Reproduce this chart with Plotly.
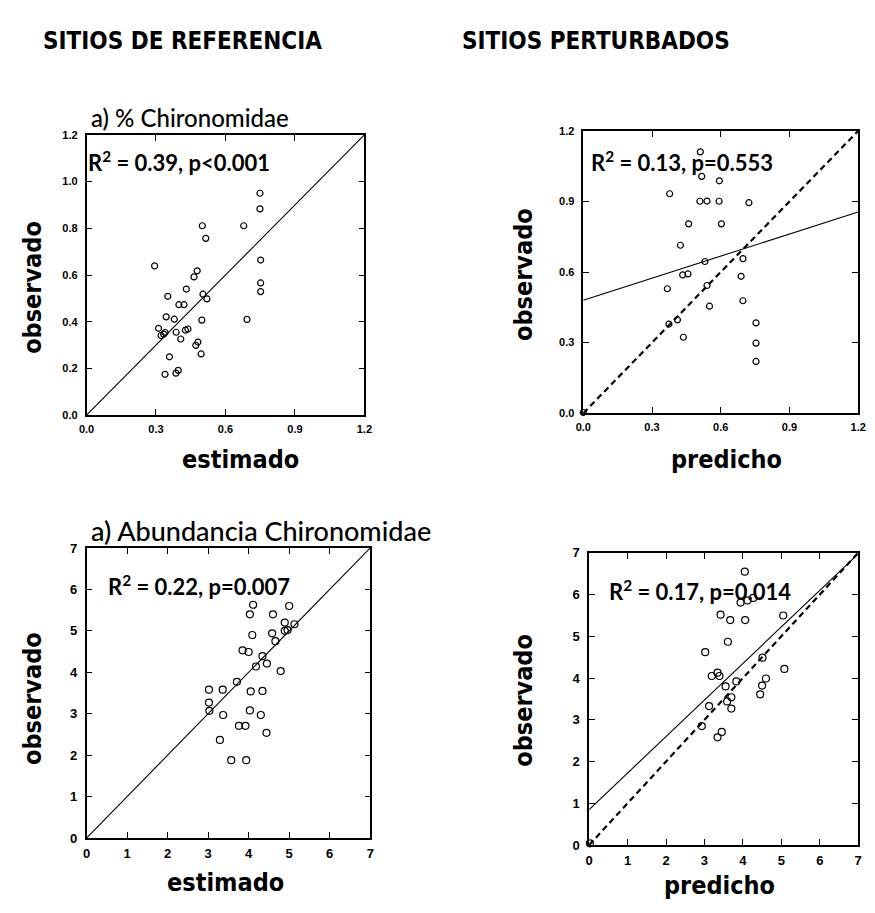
import plotly.graph_objects as go

# ---------------- data ----------------
ref_pct_x = [0.294,0.351,0.344,0.379,0.311,0.333,0.322,0.339,0.387,0.399,0.421,0.431,0.427,0.438,0.407,0.464,0.478,0.472,0.481,0.495,0.498,0.500,0.515,0.503,0.520,0.358,0.339,0.386,0.396,0.679,0.693,0.749,0.749,0.752,0.752,0.752]
ref_pct_y = [0.639,0.509,0.421,0.411,0.372,0.347,0.341,0.354,0.355,0.473,0.473,0.540,0.364,0.369,0.326,0.592,0.618,0.299,0.313,0.262,0.407,0.811,0.757,0.518,0.498,0.250,0.175,0.180,0.192,0.811,0.410,0.950,0.883,0.664,0.566,0.529]

pert_pct_x = [0.511,0.517,0.594,0.377,0.509,0.540,0.593,0.723,0.460,0.603,0.424,0.531,0.697,0.434,0.457,0.689,0.367,0.540,0.697,0.551,0.374,0.411,0.437,0.754,0.754,0.754,0.0]
pert_pct_y = [1.111,1.007,0.988,0.933,0.901,0.902,0.901,0.895,0.805,0.805,0.714,0.645,0.657,0.588,0.592,0.582,0.529,0.543,0.478,0.455,0.379,0.397,0.323,0.384,0.298,0.220,0.003]

ref_ab_x = [4.11,5.00,4.03,4.60,4.89,5.13,4.89,4.96,4.58,4.09,4.66,3.85,4.00,4.34,4.18,4.45,4.79,3.71,3.02,3.36,4.05,4.34,3.02,3.03,3.37,4.03,4.30,3.76,3.92,4.44,3.29,3.57,3.94]
ref_ab_y = [5.63,5.60,5.40,5.40,5.20,5.16,5.00,5.02,4.94,4.90,4.75,4.53,4.49,4.39,4.14,4.21,4.03,3.77,3.58,3.58,3.54,3.55,3.27,3.07,2.97,3.08,2.97,2.71,2.71,2.54,2.37,1.88,1.88]

pert_ab_x = [4.05,3.94,4.12,4.27,3.42,3.67,4.06,5.05,3.61,3.02,3.34,3.19,3.39,5.08,3.83,3.55,4.50,4.60,4.51,4.45,3.70,3.59,3.70,3.12,2.93,3.45,3.34,0.02]
pert_ab_y = [6.55,5.81,5.86,5.92,5.52,5.39,5.39,5.50,4.87,4.62,4.13,4.05,4.05,4.22,3.92,3.80,3.82,3.99,4.49,3.61,3.54,3.44,3.27,3.33,2.85,2.71,2.58,0.04]

# fitted lines (intercept, slope)
fit_ref_pct = (0.0, 1.0)
fit_pert_pct = (0.48, 0.313)
fit_ref_ab = (0.0, 1.0)
fit_pert_ab = (0.85, 0.875)

stats = ["R<sup>2</sup> = 0.39, p&lt;0.001", "R<sup>2</sup> = 0.13, p=0.553",
         "R<sup>2</sup> = 0.22, p=0.007", "R<sup>2</sup> = 0.17, p=0.014"]
headers = ["SITIOS DE REFERENCIA", "SITIOS PERTURBADOS"]
subtitles = ["a) % Chironomidae", "a) Abundancia Chironomidae"]
xtitles = ["estimado", "predicho", "estimado", "predicho"]
ytitle = "observado"

pct_ticks_x = [0.0, 0.3, 0.6, 0.9, 1.2]
pct_ticks_y_ref = [0.0, 0.2, 0.4, 0.6, 0.8, 1.0, 1.2]
pct_ticks_y_pert = [0.0, 0.3, 0.6, 0.9, 1.2]
ab_ticks = [0, 1, 2, 3, 4, 5, 6, 7]

# ---------------- layout geometry ----------------
W, H = 875, 913
boxes = [  # left, right, top, bottom in px
    (80, 363, 130, 415),
    (586, 866, 126, 413),
    (80, 369, 550, 845),
    (592, 866, 555, 852),
]

def px_x(p):
    return p / W

def px_y(p):
    return 1 - p / H

fig = go.Figure()

panels = [
    (ref_pct_x, ref_pct_y, fit_ref_pct, False, 1.2, 6),
    (pert_pct_x, pert_pct_y, fit_pert_pct, True, 1.2, 6),
    (ref_ab_x, ref_ab_y, fit_ref_ab, False, 7, 7),
    (pert_ab_x, pert_ab_y, fit_pert_ab, True, 7, 7),
]

for i, (xs, ys, fit, dashed, mx, msize) in enumerate(panels):
    n = "" if i == 0 else str(i + 1)
    xa, ya = "x" + n, "y" + n
    b0, b1 = fit
    if dashed:
        fig.add_trace(go.Scatter(x=[0, mx], y=[0, mx], mode="lines", xaxis=xa, yaxis=ya,
                                 line=dict(color="black", width=2.2, dash="6px,4px"),
                                 showlegend=False, hoverinfo="skip"))
    fig.add_trace(go.Scatter(x=[0, mx], y=[b0, b0 + b1 * mx], mode="lines", xaxis=xa, yaxis=ya,
                             line=dict(color="black", width=1.1), showlegend=False,
                             hoverinfo="skip"))
    fig.add_trace(go.Scatter(x=xs, y=ys, mode="markers", xaxis=xa, yaxis=ya,
                             marker=dict(symbol="circle-open", size=msize, color="black",
                                         line=dict(width=1.2, color="black")),
                             cliponaxis=False, showlegend=False))

tickfam = "Liberation Sans, Arial, sans-serif"
axis_common = dict(showline=True, linewidth=1.5, linecolor="black", mirror="ticks",
                   ticks="inside", ticklen=6, tickwidth=1.3, tickcolor="black",
                   showgrid=False, zeroline=False)

layout = dict(width=W, height=H, margin=dict(l=0, r=0, t=0, b=0),
              paper_bgcolor="white", plot_bgcolor="white", showlegend=False)

tickspecs = [
    (pct_ticks_x, pct_ticks_y_ref, [0, 1.2], "%.1f", 11),
    (pct_ticks_x, pct_ticks_y_pert, [0, 1.2], "%.1f", 11),
    (ab_ticks, ab_ticks, [0, 7], "%d", 13),
    (ab_ticks, ab_ticks, [0, 7], "%d", 13),
]

for i, (l, r, t, bt) in enumerate(boxes):
    n = "" if i == 0 else str(i + 1)
    tx, ty, rng, fmt, fs = tickspecs[i]
    tf = dict(family=tickfam, size=fs, color="black")
    layout["xaxis" + n] = dict(axis_common, domain=[px_x(l), px_x(r)], range=rng,
                               tickvals=tx, ticktext=["<b>" + (fmt % v) + "</b>" for v in tx],
                               anchor="y" + n, tickfont=tf, ticklabelstandoff=3)
    layout["yaxis" + n] = dict(axis_common, domain=[px_y(bt), px_y(t)], range=rng,
                               tickvals=ty, ticktext=["<b>" + (fmt % v) + "</b>" for v in ty],
                               anchor="x" + n, tickfont=tf, ticklabelstandoff=5)

fig.update_layout(**layout)

ann = []
hfont = dict(family="DejaVu Sans Condensed, Liberation Sans, Arial, sans-serif", size=24,
             color="black")
for txt, cx in zip(headers, [178, 599]):
    ann.append(dict(text="<b>" + txt + "</b>", x=px_x(cx), y=px_y(35), xref="paper",
                    yref="paper", xanchor="center", yanchor="middle", showarrow=False,
                    font=hfont))

sfont = dict(family="Lato, Noto Sans, sans-serif", color="black", weight=500)
ann.append(dict(text=subtitles[0], x=px_x(83), y=px_y(112), xref="paper", yref="paper",
                xanchor="left", yanchor="middle", showarrow=False, font=dict(sfont, size=24)))
ann.append(dict(text=subtitles[1], x=px_x(82), y=px_y(532), xref="paper", yref="paper",
                xanchor="left", yanchor="middle", showarrow=False, font=dict(sfont, size=27)))

statpos = [(79, 157), (592, 157), (100, 588), (610, 593)]
for txt, (sx, sy) in zip(stats, statpos):
    ann.append(dict(text="<b>" + txt + "</b>", x=px_x(sx), y=px_y(sy), xref="paper",
                    yref="paper", xanchor="left", yanchor="middle", showarrow=False,
                    font=dict(family="Lato, Noto Sans, sans-serif", size=22, color="black")))

afont = dict(family="DejaVu Sans Condensed, Liberation Sans, Arial, sans-serif", size=25,
             color="black")
xtpos = [(237, 460), (732, 460), (222, 890), (725, 893)]
for txt, (ax_, ay_) in zip(xtitles, xtpos):
    ann.append(dict(text="<b>" + txt + "</b>", x=px_x(ax_), y=px_y(ay_), xref="paper",
                    yref="paper", xanchor="center", yanchor="middle", showarrow=False,
                    font=afont))
ytpos = [(25, 285), (525, 272), (25, 703), (525, 705)]
for (ax_, ay_) in ytpos:
    ann.append(dict(text="<b>" + ytitle + "</b>", x=px_x(ax_), y=px_y(ay_), xref="paper",
                    yref="paper", xanchor="center", yanchor="middle", showarrow=False,
                    textangle=-90, font=afont))

fig.update_layout(annotations=ann)
fig.write_html("out.html")
